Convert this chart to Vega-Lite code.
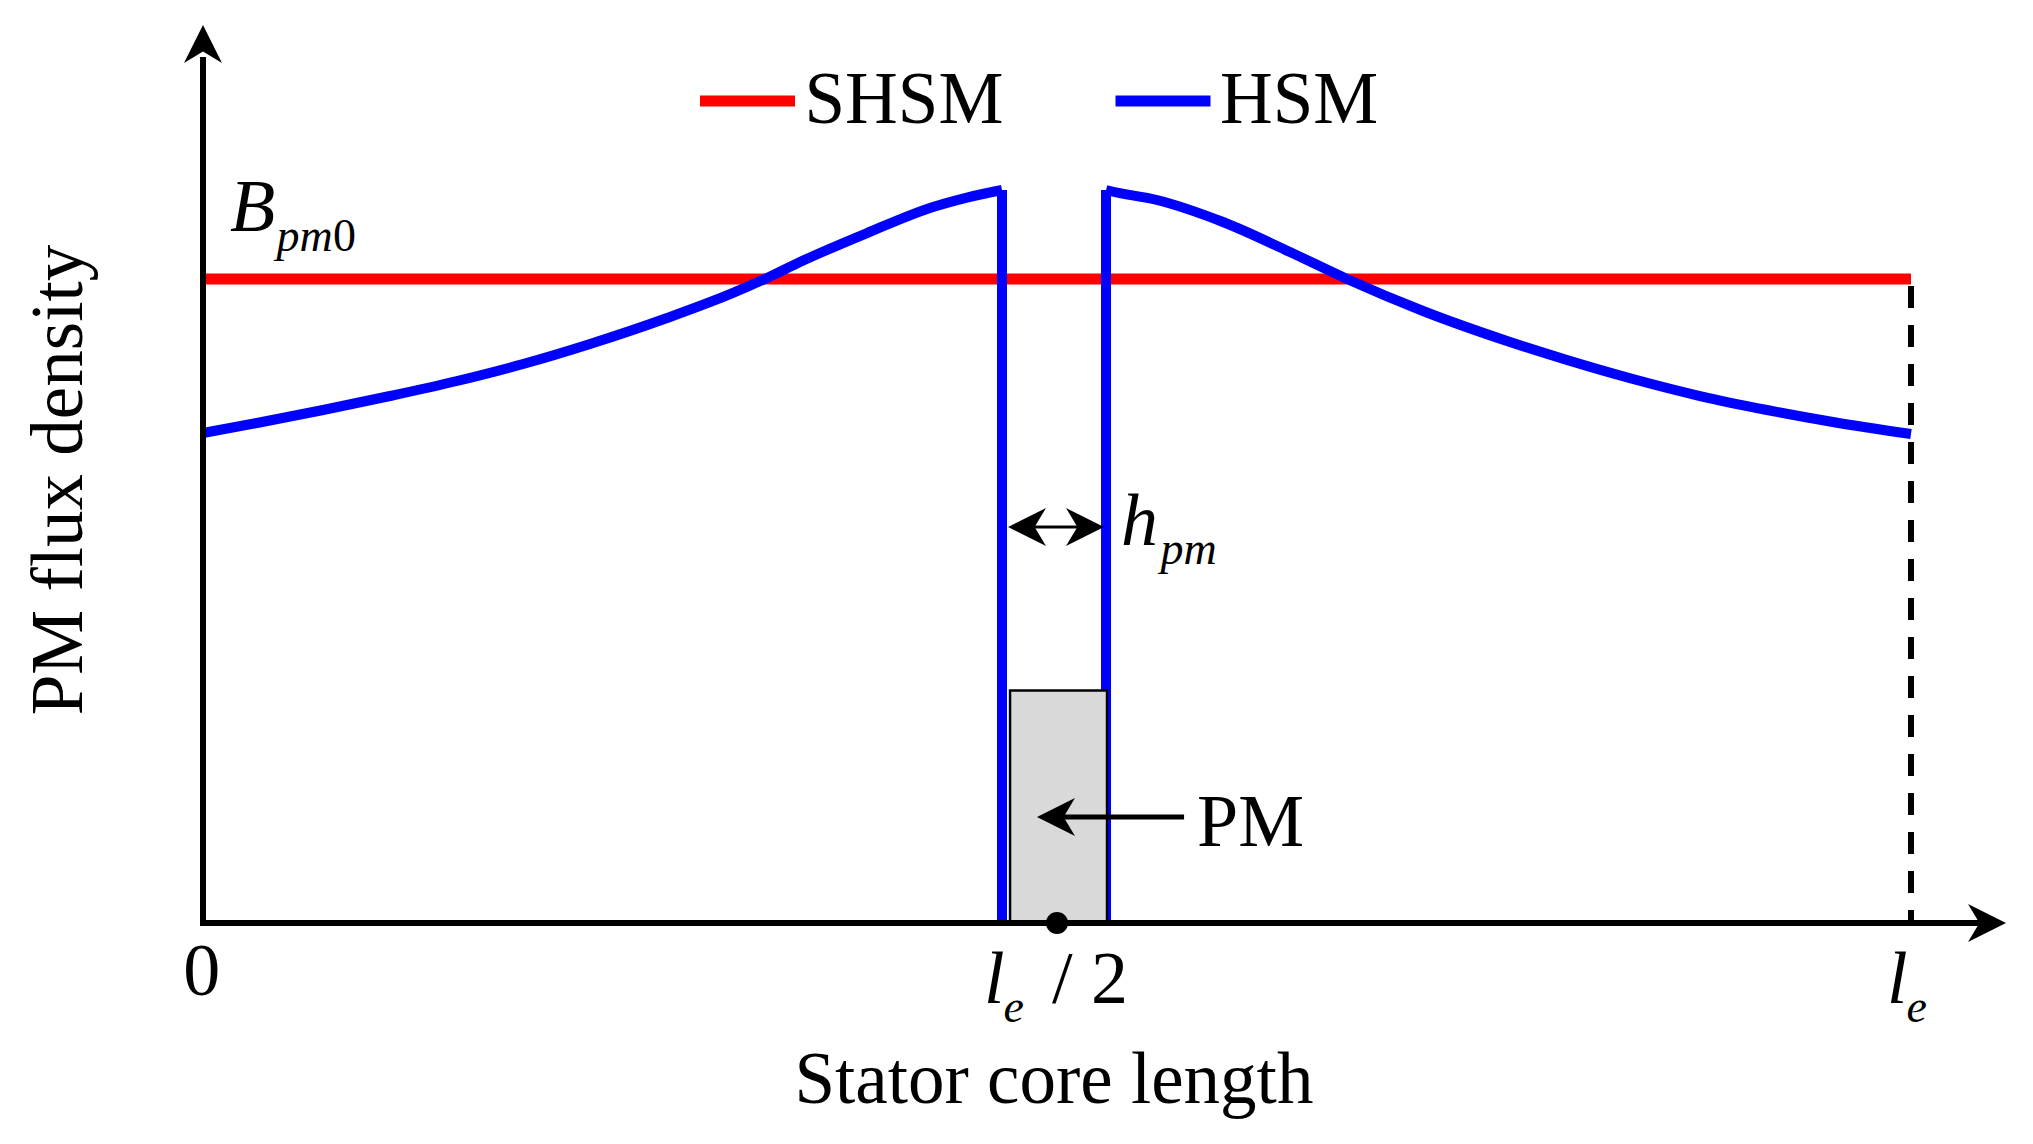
{
  "$schema": "https://vega.github.io/schema/vega-lite/v6.json",
  "width": 2033,
  "height": 1144,
  "autosize": {"type": "none"},
  "padding": 0,
  "background": "white",
  "config": {"view": {"stroke": null}, "font": "Liberation Serif"},
  "datasets": {
    "curves": [
      {"model": "SHSM", "segment": "SHSM", "i": 0, "x": 0, "y": 1},
      {"model": "SHSM", "segment": "SHSM", "i": 1, "x": 1, "y": 1},
      {"model": "HSM", "segment": "HSM-left", "i": 0, "x": 0, "y": 0.7609},
      {"model": "HSM", "segment": "HSM-left", "i": 1, "x": 0.0316, "y": 0.7764},
      {"model": "HSM", "segment": "HSM-left", "i": 2, "x": 0.0703, "y": 0.7966},
      {"model": "HSM", "segment": "HSM-left", "i": 3, "x": 0.1095, "y": 0.8183},
      {"model": "HSM", "segment": "HSM-left", "i": 4, "x": 0.1487, "y": 0.8416},
      {"model": "HSM", "segment": "HSM-left", "i": 5, "x": 0.1874, "y": 0.868},
      {"model": "HSM", "segment": "HSM-left", "i": 6, "x": 0.2266, "y": 0.8991},
      {"model": "HSM", "segment": "HSM-left", "i": 7, "x": 0.2717, "y": 0.9394},
      {"model": "HSM", "segment": "HSM-left", "i": 8, "x": 0.3103, "y": 0.9783},
      {"model": "HSM", "segment": "HSM-left", "i": 9, "x": 0.3302, "y": 1.0016},
      {"model": "HSM", "segment": "HSM-left", "i": 10, "x": 0.3495, "y": 1.0264},
      {"model": "HSM", "segment": "HSM-left", "i": 11, "x": 0.3888, "y": 1.0714},
      {"model": "HSM", "segment": "HSM-left", "i": 12, "x": 0.4274, "y": 1.1118},
      {"model": "HSM", "segment": "HSM-left", "i": 13, "x": 0.4473, "y": 1.1265},
      {"model": "HSM", "segment": "HSM-left", "i": 14, "x": 0.4678, "y": 1.1382},
      {"model": "HSM", "segment": "HSM-right", "i": 0, "x": 0.5287, "y": 1.1382},
      {"model": "HSM", "segment": "HSM-right", "i": 1, "x": 0.531, "y": 1.1366},
      {"model": "HSM", "segment": "HSM-right", "i": 2, "x": 0.5585, "y": 1.1227},
      {"model": "HSM", "segment": "HSM-right", "i": 3, "x": 0.5972, "y": 1.0885},
      {"model": "HSM", "segment": "HSM-right", "i": 4, "x": 0.6364, "y": 1.0419},
      {"model": "HSM", "segment": "HSM-right", "i": 5, "x": 0.6698, "y": 1.0},
      {"model": "HSM", "segment": "HSM-right", "i": 6, "x": 0.7143, "y": 0.9503},
      {"model": "HSM", "segment": "HSM-right", "i": 7, "x": 0.7635, "y": 0.9037},
      {"model": "HSM", "segment": "HSM-right", "i": 8, "x": 0.7986, "y": 0.8742},
      {"model": "HSM", "segment": "HSM-right", "i": 9, "x": 0.8372, "y": 0.8447},
      {"model": "HSM", "segment": "HSM-right", "i": 10, "x": 0.8765, "y": 0.8183},
      {"model": "HSM", "segment": "HSM-right", "i": 11, "x": 0.9157, "y": 0.7966},
      {"model": "HSM", "segment": "HSM-right", "i": 12, "x": 0.9543, "y": 0.778},
      {"model": "HSM", "segment": "HSM-right", "i": 13, "x": 1.0, "y": 0.7593}
    ],
    "drops": [
      {"model": "HSM", "x": 0.4678, "y": 1.1382, "y2": 0},
      {"model": "HSM", "x": 0.5287, "y": 1.1382, "y2": 0}
    ],
    "guides": [{"x": 1, "y": 1, "y2": 0}],
    "axislines": [
      {"axis": "x", "x": 0, "y": 0, "x2": 1.0415, "y2": 0},
      {"axis": "y", "x": 0, "y": 0, "x2": 0, "y2": 1.34}
    ],
    "pointers": [
      {"name": "hpm", "x": 0.4783, "x2": 0.5205, "y": 0.6149},
      {"name": "pm", "x": 0.5018, "x2": 0.5744, "y": 0.1646}
    ],
    "heads": [
      {"dir": "right", "x": 1.0445, "y": 0},
      {"dir": "up", "x": 0, "y": 1.36491},
      {"dir": "left", "x": 0.48244, "y": 0.6149},
      {"dir": "right", "x": 0.51639, "y": 0.6149},
      {"dir": "left", "x": 0.49941, "y": 0.1646}
    ],
    "magnet": [{"x0": 0.4725, "x1": 0.5293, "y0": 0, "y1": 0.361}],
    "center": [{"x": 0.5, "y": 0}],
    "titles": [
      {"text": "Stator core length", "axis": "x", "x": 0.4982, "y": -0.2795},
      {"text": "PM flux density", "axis": "y", "x": -0.0708, "y": 0.6879}
    ],
    "labels": [
      {"text": "PM", "role": "constant", "x": 0.582, "y": 0.1196},
      {"text": "0", "role": "constant", "x": -0.0115, "y": -0.1118},
      {"text": "/ 2", "role": "constant", "x": 0.4971, "y": -0.1242},
      {"text": "B", "role": "variable", "x": 0.0158, "y": 1.0745},
      {"text": "h", "role": "variable", "x": 0.5375, "y": 0.587},
      {"text": "l", "role": "variable", "x": 0.4573, "y": -0.1242},
      {"text": "l", "role": "variable", "x": 0.9859, "y": -0.1242},
      {"text": "pm", "role": "variable_sub", "x": 0.043, "y": 1.0435},
      {"text": "pm", "role": "variable_sub", "x": 0.5606, "y": 0.5575},
      {"text": "e", "role": "variable_sub", "x": 0.4687, "y": -0.1537},
      {"text": "e", "role": "variable_sub", "x": 0.9974, "y": -0.1537},
      {"text": "0", "role": "constant_sub", "x": 0.0761, "y": 1.0435}
    ]
  },
  "layer": [
    {
      "data": {"name": "guides"},
      "mark": {"type": "rule", "color": "black", "strokeWidth": 6, "strokeDash": [22, 17], "strokeDashOffset": 32},
      "encoding": {
        "x": {"field": "x", "type": "quantitative", "scale": {"domain": [-0.118852, 1.071429], "nice": false, "zero": false}, "axis": null},
        "y": {"field": "y", "type": "quantitative", "scale": {"domain": [-0.343168, 1.43323], "nice": false, "zero": false}, "axis": null},
        "y2": {"field": "y2"}
      }
    },
    {
      "data": {"name": "curves"},
      "transform": [{"filter": "datum.model === 'SHSM'"}],
      "mark": {"type": "line", "strokeWidth": 11},
      "encoding": {
        "x": {"field": "x", "type": "quantitative", "axis": null},
        "y": {"field": "y", "type": "quantitative", "axis": null},
        "color": {"field": "model", "type": "nominal",
          "scale": {"domain": ["SHSM", "HSM"], "range": ["#ff0000", "#0000ff"]},
          "legend": {"title": null, "orient": "none", "legendX": 694.5, "legendY": 48, "direction": "horizontal", "columns": 2,
            "symbolType": "stroke", "symbolSize": 9025, "symbolStrokeWidth": 11, "symbolOffset": 0,
            "labelFont": "Liberation Serif", "labelFontSize": 73, "labelColor": "black", "labelOffset": 4, "labelLimit": 0,
            "columnPadding": 89.5, "padding": 0}},
        "detail": {"field": "segment"},
        "order": {"field": "i", "type": "quantitative"}
      }
    },
    {
      "data": {"name": "curves"},
      "transform": [{"filter": "datum.model === 'HSM'"}],
      "mark": {"type": "line", "strokeWidth": 10, "interpolate": "monotone"},
      "encoding": {
        "x": {"field": "x", "type": "quantitative", "axis": null},
        "y": {"field": "y", "type": "quantitative", "axis": null},
        "color": {"field": "model", "type": "nominal"},
        "detail": {"field": "segment"},
        "order": {"field": "i", "type": "quantitative"}
      }
    },
    {
      "data": {"name": "drops"},
      "mark": {"type": "rule", "strokeWidth": 10},
      "encoding": {
        "x": {"field": "x", "type": "quantitative", "axis": null},
        "y": {"field": "y", "type": "quantitative", "axis": null},
        "y2": {"field": "y2"},
        "color": {"field": "model", "type": "nominal", "legend": null}
      }
    },
    {
      "data": {"name": "magnet"},
      "mark": {"type": "rect", "fill": "#d9d9d9", "stroke": "black", "strokeWidth": 2.5},
      "encoding": {
        "x": {"field": "x0", "type": "quantitative", "axis": null},
        "x2": {"field": "x1"},
        "y": {"field": "y0", "type": "quantitative", "axis": null},
        "y2": {"field": "y1"}
      }
    },
    {
      "data": {"name": "axislines"},
      "mark": {"type": "rule", "color": "black", "strokeWidth": 6, "strokeCap": "square"},
      "encoding": {
        "x": {"field": "x", "type": "quantitative", "axis": null},
        "x2": {"field": "x2"},
        "y": {"field": "y", "type": "quantitative", "axis": null},
        "y2": {"field": "y2"}
      }
    },
    {
      "data": {"name": "pointers"},
      "transform": [{"filter": "datum.name === 'hpm'"}],
      "mark": {"type": "rule", "color": "black", "strokeWidth": 3},
      "encoding": {
        "x": {"field": "x", "type": "quantitative", "axis": null},
        "x2": {"field": "x2"},
        "y": {"field": "y", "type": "quantitative", "axis": null}
      }
    },
    {
      "data": {"name": "pointers"},
      "transform": [{"filter": "datum.name === 'pm'"}],
      "mark": {"type": "rule", "color": "black", "strokeWidth": 5},
      "encoding": {
        "x": {"field": "x", "type": "quantitative", "axis": null},
        "x2": {"field": "x2"},
        "y": {"field": "y", "type": "quantitative", "axis": null}
      }
    },
    {
      "data": {"name": "heads"},
      "mark": {"type": "point", "filled": true, "color": "black", "opacity": 1, "strokeWidth": 0, "size": 1444},
      "encoding": {
        "x": {"field": "x", "type": "quantitative", "axis": null},
        "y": {"field": "y", "type": "quantitative", "axis": null},
        "shape": {"field": "dir", "type": "nominal", "legend": null,
          "scale": {"domain": ["right", "left", "up"],
            "range": ["M1,0L-1,-1L-0.4,0L-1,1Z", "M-1,0L1,-1L0.4,0L1,1Z", "M0,-1L-1,1L0,0.4L1,1Z"]}}
      }
    },
    {
      "data": {"name": "center"},
      "mark": {"type": "point", "filled": true, "color": "black", "opacity": 1, "strokeWidth": 0, "size": 490, "shape": "circle"},
      "encoding": {
        "x": {"field": "x", "type": "quantitative", "axis": null},
        "y": {"field": "y", "type": "quantitative", "axis": null}
      }
    },
    {
      "data": {"name": "titles"},
      "transform": [{"filter": "datum.axis === 'x'"}],
      "mark": {"type": "text", "font": "Liberation Serif", "fontSize": 73, "align": "center", "baseline": "alphabetic", "color": "black"},
      "encoding": {
        "x": {"field": "x", "type": "quantitative", "axis": null},
        "y": {"field": "y", "type": "quantitative", "axis": null},
        "text": {"field": "text"}
      }
    },
    {
      "data": {"name": "titles"},
      "transform": [{"filter": "datum.axis === 'y'"}],
      "mark": {"type": "text", "font": "Liberation Serif", "fontSize": 73, "align": "center", "baseline": "alphabetic", "angle": 270, "color": "black"},
      "encoding": {
        "x": {"field": "x", "type": "quantitative", "axis": null},
        "y": {"field": "y", "type": "quantitative", "axis": null},
        "text": {"field": "text"}
      }
    },
    {
      "data": {"name": "labels"},
      "transform": [{"filter": "datum.role === 'constant'"}],
      "mark": {"type": "text", "font": "Liberation Serif", "fontSize": 74, "align": "left", "baseline": "alphabetic", "color": "black"},
      "encoding": {
        "x": {"field": "x", "type": "quantitative", "axis": null},
        "y": {"field": "y", "type": "quantitative", "axis": null},
        "text": {"field": "text"}
      }
    },
    {
      "data": {"name": "labels"},
      "transform": [{"filter": "datum.role === 'variable'"}],
      "mark": {"type": "text", "font": "Liberation Serif", "fontSize": 74, "fontStyle": "italic", "align": "left", "baseline": "alphabetic", "color": "black"},
      "encoding": {
        "x": {"field": "x", "type": "quantitative", "axis": null},
        "y": {"field": "y", "type": "quantitative", "axis": null},
        "text": {"field": "text"}
      }
    },
    {
      "data": {"name": "labels"},
      "transform": [{"filter": "datum.role === 'variable_sub'"}],
      "mark": {"type": "text", "font": "Liberation Serif", "fontSize": 46, "fontStyle": "italic", "align": "left", "baseline": "alphabetic", "color": "black"},
      "encoding": {
        "x": {"field": "x", "type": "quantitative", "axis": null},
        "y": {"field": "y", "type": "quantitative", "axis": null},
        "text": {"field": "text"}
      }
    },
    {
      "data": {"name": "labels"},
      "transform": [{"filter": "datum.role === 'constant_sub'"}],
      "mark": {"type": "text", "font": "Liberation Serif", "fontSize": 46, "align": "left", "baseline": "alphabetic", "color": "black"},
      "encoding": {
        "x": {"field": "x", "type": "quantitative", "axis": null},
        "y": {"field": "y", "type": "quantitative", "axis": null},
        "text": {"field": "text"}
      }
    }
  ]
}
